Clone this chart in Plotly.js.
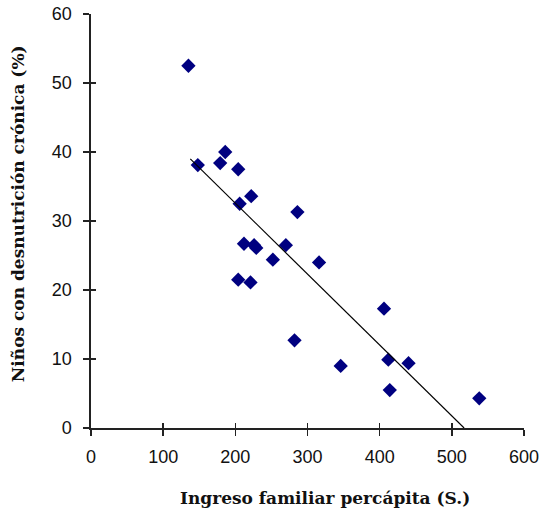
<!DOCTYPE html>
<html>
<head>
<meta charset="utf-8">
<script src="https://cdn.plot.ly/plotly-3.0.1.min.js"></script>
<style>html,body{margin:0;padding:0;background:#fff;}#chart{width:542px;height:515px;}</style>
</head>
<body>
<div id="chart"></div>
<script>
// Ingreso familiar percápita (S.)
const ingreso = [135, 148, 179, 186, 204, 206, 222, 286, 212, 226, 229, 270, 252, 316, 204, 221, 282, 346, 406, 412, 414, 440, 538];
// Niños con desnutrición crónica (%)
const desnutricion = [52.5, 38.1, 38.4, 40.0, 37.5, 32.5, 33.6, 31.3, 26.7, 26.5, 26.1, 26.5, 24.4, 24.0, 21.5, 21.1, 12.7, 9.0, 17.3, 9.9, 5.5, 9.4, 4.3];
// Recta de tendencia
const tendenciaX = [137.6, 517];
const tendenciaY = [39.0, 0];
const xTicks = [0, 100, 200, 300, 400, 500, 600];
const yTicks = [0, 10, 20, 30, 40, 50, 60];
const xTitle = 'Ingreso familiar percápita (S.)';
const yTitle = 'Niños con desnutrición crónica (%)';

const tickFont = {family: 'Liberation Sans, Arial, sans-serif', size: 18, color: '#111'};
const titleFont = {family: 'DejaVu Serif, serif', size: 17, color: '#111', weight: 'bold'};

const traces = [
  {x: ingreso, y: desnutricion, type: 'scatter', mode: 'markers',
   marker: {symbol: 'diamond', size: 11, color: '#000080'}, hoverinfo: 'x+y'},
  {x: tendenciaX, y: tendenciaY, type: 'scatter', mode: 'lines',
   line: {color: '#000', width: 1.2}, hoverinfo: 'skip'},
  {x: [0], y: [0], xaxis: 'x2', yaxis: 'y2', mode: 'markers', marker: {opacity: 0}, hoverinfo: 'skip'}
];

const axisBase = {showgrid: false, zeroline: false, showline: true, linecolor: '#222', linewidth: 1.6,
  ticks: 'outside', ticklen: 6, tickwidth: 1.6, tickcolor: '#222', tickfont: tickFont};

const layout = {
  width: 542, height: 515,
  margin: {l: 91, r: 18, t: 14, b: 87},
  paper_bgcolor: '#fff', plot_bgcolor: '#fff',
  showlegend: false,
  xaxis: Object.assign({}, axisBase, {range: [0, 600], tickvals: xTicks, ticktext: xTicks.map(String), ticklabelstandoff: 6}),
  yaxis: Object.assign({}, axisBase, {range: [0, 60], tickvals: yTicks, ticktext: yTicks.map(String), ticklabelstandoff: 8}),
  xaxis2: {overlaying: 'x', range: [0, 600], tickvals: xTicks, showticklabels: false, ticks: 'inside', ticklen: 5,
    tickwidth: 1.6, tickcolor: '#222', showgrid: false, zeroline: false, showline: false, anchor: 'y2'},
  yaxis2: {overlaying: 'y', range: [0, 60], tickvals: yTicks, showticklabels: false, ticks: 'inside', ticklen: 5,
    tickwidth: 1.6, tickcolor: '#222', showgrid: false, zeroline: false, showline: false, anchor: 'x2'},
  annotations: [
    {text: xTitle, xref: 'paper', yref: 'paper', x: 0.54, y: -0.168, xanchor: 'center', yanchor: 'middle',
     showarrow: false, font: titleFont},
    {text: yTitle, xref: 'paper', yref: 'paper', x: -0.168, y: 0.517, xanchor: 'center', yanchor: 'middle',
     textangle: -90, showarrow: false, font: titleFont}
  ]
};

Plotly.newPlot('chart', traces, layout, {displayModeBar: false, staticPlot: true});
</script>
</body>
</html>
